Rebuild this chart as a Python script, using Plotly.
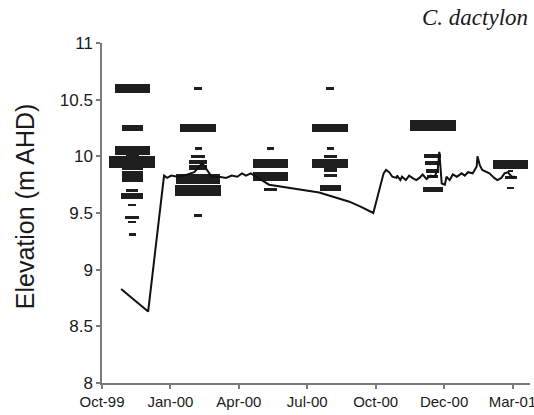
import plotly.graph_objects as go
import pandas as pd

# ---- data -------------------------------------------------------------
survey_dates = ["1999-12-03", "2000-02-24", "2000-05-25",
                "2000-08-08", "2000-12-15", "2001-03-23"]

elev_s1 = [10.6, 10.25, 10.05, 10.0, 9.95, 9.9, 9.85, 9.8, 9.7, 9.65, 9.57, 9.46, 9.42, 9.31]
abund_s1 = [35, 21, 35, 13, 46, 21, 21, 21, 12, 22, 8, 14, 8, 7]

elev_s2 = [10.6, 10.25, 10.07, 10.0, 9.95, 9.9, 9.8, 9.7, 9.48]
abund_s2 = [8, 36, 7, 14, 18, 18, 44, 46, 8]

elev_s3 = [10.07, 9.94, 9.82, 9.71]
abund_s3 = [7, 35, 35, 13]

elev_s4 = [10.6, 10.25, 10.07, 10.0, 9.94, 9.88, 9.83, 9.72]
abund_s4 = [8, 36, 7, 13, 36, 13, 13, 21]

elev_s5 = [10.27, 10.0, 9.94, 9.87, 9.82, 9.71]
abund_s5 = [46, 17, 15, 13, 11, 20]

elev_s6 = [9.93, 9.87, 9.81, 9.72]
abund_s6 = [35, 5, 12, 7]

level_dates = ["1999-11-19", "1999-12-23", "2000-01-12", "2000-01-16", "2000-01-21",
               "2000-01-29", "2000-02-06", "2000-02-19", "2000-02-29", "2000-03-06",
               "2000-03-12", "2000-03-21", "2000-03-30", "2000-04-06", "2000-04-13",
               "2000-04-19", "2000-04-24", "2000-04-30", "2000-05-07", "2000-05-23",
               "2000-07-25", "2000-09-01", "2000-09-17", "2000-10-01", "2000-10-14",
               "2000-10-17", "2000-10-21", "2000-10-25", "2000-10-30", "2000-10-31",
               "2000-11-04", "2000-11-06", "2000-11-11", "2000-11-15", "2000-11-19",
               "2000-11-24", "2000-11-28", "2000-12-02", "2000-12-07", "2000-12-12",
               "2000-12-17", "2000-12-21", "2000-12-23", "2000-12-26", "2000-12-30",
               "2001-01-01", "2001-01-05", "2001-01-09", "2001-01-14", "2001-01-20",
               "2001-01-24", "2001-01-28", "2001-02-03", "2001-02-08", "2001-02-09",
               "2001-02-12", "2001-02-15", "2001-02-24", "2001-03-02", "2001-03-06",
               "2001-03-11", "2001-03-15", "2001-03-19", "2001-03-24", "2001-03-28"]
level_values = [8.83, 8.63, 9.83, 9.81, 9.83,
                9.82, 9.83, 9.86, 9.94, 9.88,
                9.82, 9.82, 9.81, 9.83, 9.82,
                9.85, 9.83, 9.85, 9.82, 9.75,
                9.68, 9.60, 9.55, 9.50, 9.85,
                9.88, 9.86, 9.82, 9.81, 9.83,
                9.79, 9.82, 9.79, 9.83, 9.81,
                9.79, 9.81, 9.84, 9.80, 9.83,
                9.82, 9.88, 10.04, 9.76, 9.75,
                9.82, 9.79, 9.84, 9.82, 9.85,
                9.83, 9.86, 9.85, 9.91, 10.0,
                9.92, 9.88, 9.85, 9.81, 9.79,
                9.81, 9.85, 9.86, 9.82, 9.82]

tick_start = "1999-10-26"
tick_step_days = 86
n_ticks = 7
x_end = "2001-04-16"

# ---- build ------------------------------------------------------------
DAYS_PER_UNIT = 1.26      # horizontal extent of one abundance unit
THICK_PER_UNIT = 0.0022   # vertical extent (m) of one abundance unit

surveys = [(elev_s1, abund_s1), (elev_s2, abund_s2), (elev_s3, abund_s3),
           (elev_s4, abund_s4), (elev_s5, abund_s5), (elev_s6, abund_s6)]

bar_y, bar_len, bar_base, bar_w = [], [], [], []
for d, (ev, ab) in zip(survey_dates, surveys):
    centre = pd.Timestamp(d)
    for e, a in zip(ev, ab):
        span = pd.Timedelta(days=a * DAYS_PER_UNIT)
        bar_y.append(e)
        bar_len.append(span.total_seconds() * 1000.0)
        bar_base.append((centre - span / 2).strftime("%Y-%m-%d %H:%M:%S"))
        bar_w.append(max(0.022, a * THICK_PER_UNIT))

fig = go.Figure()
fig.add_trace(go.Bar(
    y=bar_y, x=bar_len, base=bar_base, width=bar_w, orientation="h",
    marker=dict(color="#1e1e1e", line=dict(width=0)), showlegend=False,
))
fig.add_trace(go.Scatter(
    x=level_dates, y=level_values, mode="lines",
    line=dict(color="#111111", width=2), showlegend=False,
))

t0 = pd.Timestamp(tick_start)
tickvals = [t0 + pd.Timedelta(days=tick_step_days * k) for k in range(n_ticks)]

fig.update_layout(
    width=534, height=415,
    margin=dict(l=102, r=4, t=43, b=32),
    paper_bgcolor="white", plot_bgcolor="white",
    font=dict(family="Liberation Sans, Arial, sans-serif", color="#1a1a1a"),
    bargap=0,
    xaxis=dict(
        type="date", range=[t0, pd.Timestamp(x_end)],
        tickvals=tickvals, tickformat="%b-%y",
        ticklabeloverflow="allow", automargin=False,
        showgrid=False, zeroline=False,
        showline=True, linecolor="#7a7a7a", linewidth=1.5,
        ticks="outside", ticklen=4, tickcolor="#7a7a7a", tickwidth=1.5,
        tickfont=dict(size=15),
    ),
    yaxis=dict(
        range=[8, 11], tickvals=[8, 8.5, 9, 9.5, 10, 10.5, 11],
        automargin=False,
        showgrid=False, zeroline=False,
        showline=True, linecolor="#7a7a7a", linewidth=1.5,
        ticks="outside", ticklen=4, tickcolor="#7a7a7a", tickwidth=1.5,
        tickfont=dict(size=17),
    ),
    annotations=[
        dict(text="Elevation (m AHD)", textangle=-90, showarrow=False,
             xref="paper", yref="paper", x=(25 - 102) / 428, y=0.52,
             xanchor="center", yanchor="middle",
             font=dict(size=25, family="Liberation Sans, Arial, sans-serif", color="#1a1a1a")),
        dict(text="<i>C. dactylon</i>", showarrow=False,
             xref="paper", yref="paper", x=1.0, y=1.0, yshift=26,
             xanchor="right", yanchor="middle",
             font=dict(size=23, family="Liberation Serif, Times New Roman, serif", color="#1a1a1a")),
    ],
)

fig.write_html("out.html")
